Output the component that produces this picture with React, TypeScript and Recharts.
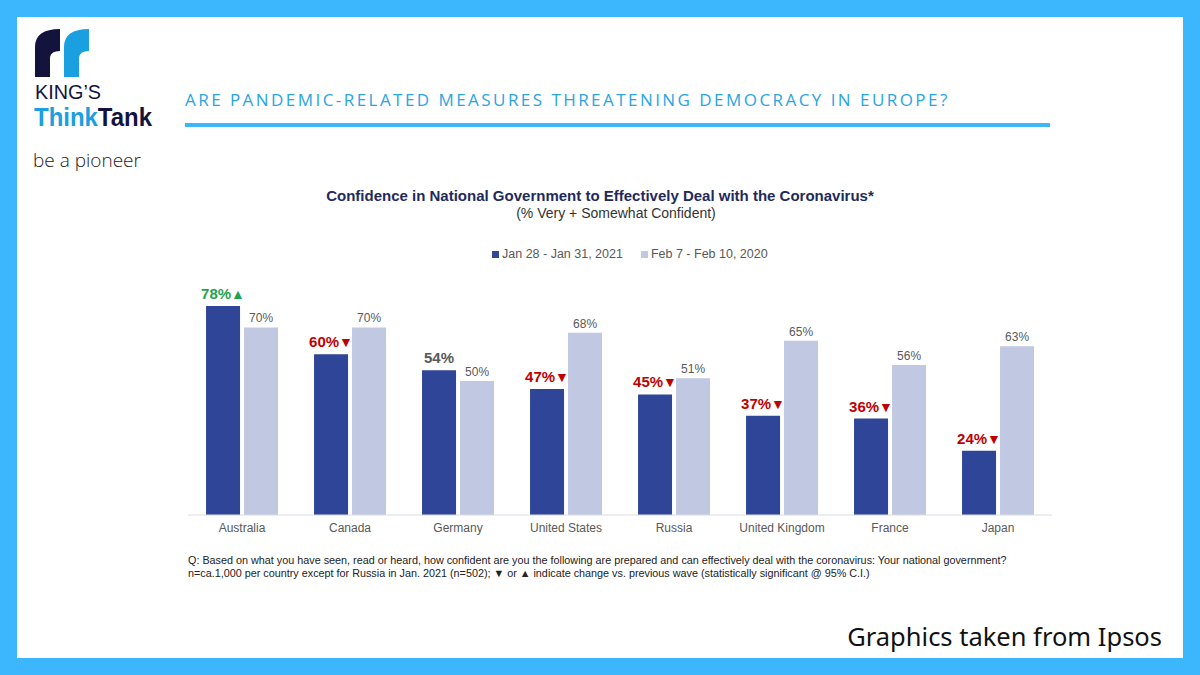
import React from "react";
import { BarChart, Bar, XAxis, YAxis, LabelList } from "recharts";

const countries = [
  "Australia",
  "Canada",
  "Germany",
  "United States",
  "Russia",
  "United Kingdom",
  "France",
  "Japan",
];
const jan2021 = [78, 60, 54, 47, 45, 37, 36, 24];
const feb2020 = [70, 70, 50, 68, 51, 65, 56, 63];
const change = ["up", "down", "none", "down", "down", "down", "down", "down"];

const seriesNames = ["Jan 28 - Jan 31, 2021", "Feb 7 - Feb 10, 2020"];

const data = countries.map((c, i) => ({
  country: c,
  jan: jan2021[i],
  feb: feb2020[i],
  change: change[i],
}));

const ARIAL = "Arial, 'Liberation Sans', sans-serif";
const DARK = "#2f4597";
const LIGHT = "#c1c9e2";
const FRAME = "#3cb6fc";

function DarkLabel(props: any) {
  const { x, y, width, value, index } = props;
  const ch = change[index];
  const color = ch === "up" ? "#1fa34f" : ch === "down" ? "#c00000" : "#595959";
  const arrow = ch === "up" ? "\u25B2" : ch === "down" ? "\u25BC" : "";
  return (
    <text
      x={x + width / 2}
      y={y - 7}
      textAnchor="middle"
      fontFamily={ARIAL}
      fontWeight="bold"
      fontSize={15}
      fill={color}
    >
      {value}%
      {arrow && <tspan fontSize={14}>{arrow}</tspan>}
    </text>
  );
}

function LightLabel(props: any) {
  const { x, y, width, value } = props;
  return (
    <text
      x={x + width / 2}
      y={y - 5}
      textAnchor="middle"
      fontFamily={ARIAL}
      fontSize={12}
      fill="#595959"
    >
      {value}%
    </text>
  );
}

function Logo() {
  return (
    <svg width={160} height={150} style={{ position: "absolute", left: 30, top: 25 }}>
      <path d="M5,52 L5,22 Q5,4 30,4 L30,26 Q21,26 20,32 L20,52 Z" fill="#13133d" />
      <path d="M34,52 L34,22 Q34,4 59,4 L59,26 Q50,26 49,32 L49,52 Z" fill="#1a9fe0" />
      <text
        x={5}
        y={74}
        fontFamily={ARIAL}
        fontSize={21}
        fill="#13133d"
        textLength={66}
        lengthAdjust="spacingAndGlyphs"
      >
        KING’S
      </text>
      <text
        x={4}
        y={101}
        fontFamily={ARIAL}
        fontSize={26}
        fontWeight="bold"
        textLength={118}
        lengthAdjust="spacingAndGlyphs"
      >
        <tspan fill="#1a9fe0">Think</tspan>
        <tspan fill="#13133d">Tank</tspan>
      </text>
    </svg>
  );
}

export default function App() {
  return (
    <div
      style={{
        position: "absolute",
        left: 0,
        top: 0,
        width: 1200,
        height: 675,
        background: FRAME,
        overflow: "hidden",
      }}
    >
      <div
        style={{
          position: "absolute",
          left: 17,
          top: 17,
          width: 1166,
          height: 641,
          background: "#ffffff",
        }}
      />
      <Logo />
      <div
        style={{
          position: "absolute",
          left: 33,
          top: 147,
          fontFamily: "'Open Sans', sans-serif",
          fontSize: 19,
          fontWeight: 300,
          color: "#222",
        }}
      >
        be a pioneer
      </div>
      <div
        style={{
          position: "absolute",
          left: 185,
          top: 88,
          fontFamily: "'Open Sans', sans-serif",
          fontSize: 17,
          letterSpacing: 2.45,
          color: "#2aa4e2",
          whiteSpace: "nowrap",
        }}
      >
        ARE PANDEMIC-RELATED MEASURES THREATENING DEMOCRACY IN EUROPE?
      </div>
      <div
        style={{
          position: "absolute",
          left: 185,
          top: 123,
          width: 865,
          height: 4,
          background: FRAME,
        }}
      />
      <div
        style={{
          position: "absolute",
          left: 0,
          width: 1200,
          top: 187,
          textAlign: "center",
          fontFamily: ARIAL,
          color: "#1f2a5c",
        }}
      >
        <div style={{ fontSize: 15, fontWeight: "bold", lineHeight: "18px" }}>
          Confidence in National Government to Effectively Deal with the Coronavirus*
        </div>
        <div style={{ fontSize: 14, color: "#333", lineHeight: "17px", paddingLeft: 32 }}>
          (% Very + Somewhat Confident)
        </div>
      </div>
      <div
        style={{
          position: "absolute",
          left: 492,
          top: 247,
          display: "flex",
          gap: 18,
          fontFamily: ARIAL,
          fontSize: 12.5,
          color: "#595959",
          whiteSpace: "nowrap",
        }}
      >
        {[DARK, LIGHT].map((col, i) => (
          <div key={i} style={{ display: "flex", alignItems: "center", gap: 3 }}>
            <span style={{ display: "inline-block", width: 7, height: 7, background: col }} />
            <span>{seriesNames[i]}</span>
          </div>
        ))}
      </div>
      <div style={{ position: "absolute", left: 0, top: 230 }}>
        <BarChart
          width={1200}
          height={320}
          data={data}
          margin={{ top: 70.6, right: 148, bottom: 5, left: 188 }}
          barCategoryGap="16.7%"
          barGap={4}
        >
          <XAxis
            dataKey="country"
            tickLine={false}
            axisLine={{ stroke: "#d9dce8" }}
            tick={{ fontFamily: ARIAL, fontSize: 12, fill: "#595959" }}
            interval={0}
          />
          <YAxis hide domain={[0, 80]} />
          <Bar dataKey="jan" fill={DARK} isAnimationActive={false}>
            <LabelList dataKey="jan" content={DarkLabel} />
          </Bar>
          <Bar dataKey="feb" fill={LIGHT} isAnimationActive={false}>
            <LabelList dataKey="feb" content={LightLabel} />
          </Bar>
        </BarChart>
      </div>
      <div
        style={{
          position: "absolute",
          left: 188,
          top: 554,
          fontFamily: ARIAL,
          fontSize: 10.8,
          lineHeight: "13px",
          color: "#222",
          whiteSpace: "nowrap",
        }}
      >
        <div>
          Q: Based on what you have seen, read or heard, how confident are you the following are prepared and can effectively deal with the coronavirus: Your national government?
        </div>
        <div>
          n=ca.1,000 per country except for Russia in Jan. 2021 (n=502); ▼ or ▲ indicate change vs. previous wave (statistically significant @ 95% C.I.)
        </div>
      </div>
      <div
        style={{
          position: "absolute",
          right: 38,
          top: 619,
          fontFamily: "'Noto Sans', sans-serif",
          fontSize: 25.5,
          color: "#111",
          whiteSpace: "nowrap",
        }}
      >
        Graphics taken from Ipsos
      </div>
    </div>
  );
}
